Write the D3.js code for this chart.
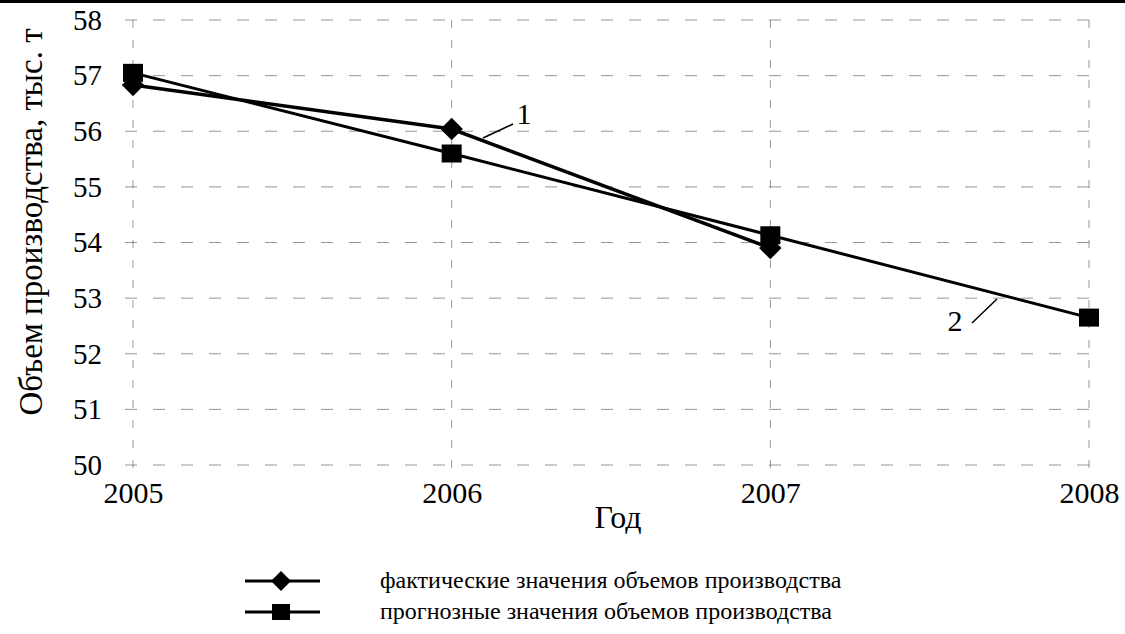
<!DOCTYPE html>
<html><head><meta charset="utf-8">
<script src="https://cdn.jsdelivr.net/npm/d3@7"></script>
<style>body{margin:0;background:#fff}svg{display:block}</style>
</head><body><svg id="c" width="1125" height="634"></svg>
<script>
const years = [2005, 2006, 2007, 2008];
const yTicks = [50, 51, 52, 53, 54, 55, 56, 57, 58];
const actualYears = [2005, 2006, 2007];
const actualValues = [56.83, 56.04, 53.9];
const forecastYears = [2005, 2006, 2007, 2008];
const forecastValues = [57.05, 55.6, 54.13, 52.65];
const legendLabels = ["фактические значения объемов производства", "прогнозные значения объемов производства"];
const xTitle = "Год";
const yTitle = "Объем производства, тыс. т";
const FONT = "'Liberation Serif', 'Times New Roman', Times, 'DejaVu Serif', serif";

const svg = d3.select("#c");
const x = d3.scaleLinear().domain([2005, 2008]).range([133, 1089]);
const y = d3.scaleLinear().domain([50, 58]).range([465, 20]);

svg.append("rect").attr("x",0).attr("y",0).attr("width",1125).attr("height",3).attr("fill","#000");

// gridlines
const g = svg.append("g");
g.selectAll(".hg").data(yTicks).join("line")
  .attr("x1", x(2005)-8).attr("x2", x(2008)).attr("y1", d=>y(d)).attr("y2", d=>y(d))
  .attr("stroke","#444").attr("stroke-width",1).attr("stroke-dasharray","12,16").attr("opacity",0.55);
g.selectAll(".vg").data(years).join("line")
  .attr("x1", d=>x(d)).attr("x2", d=>x(d)).attr("y1", y(58)).attr("y2", y(50)+6)
  .attr("stroke","#444").attr("stroke-width",1).attr("stroke-dasharray","8,12").attr("opacity",0.55);

const yAxis = svg.append("g").attr("transform",`translate(${x(2005)},0)`)
  .call(d3.axisLeft(y).tickValues(yTicks).tickFormat(d3.format("d")).tickSize(0).tickPadding(31));
yAxis.select(".domain").remove();
yAxis.selectAll("text").style("font-size","29px");

const xAxis = svg.append("g").attr("transform",`translate(0,${y(50)})`)
  .call(d3.axisBottom(x).tickValues(years).tickFormat(d3.format("d")).tickSize(0).tickPadding(17));
xAxis.select(".domain").remove();
xAxis.selectAll("text").style("font-size","30px");

svg.append("text").attr("x", 618).attr("y", 528).attr("text-anchor","middle")
  .style("font-size","32px").text(xTitle);
svg.append("text").attr("transform","translate(42,222) rotate(-90)").attr("text-anchor","middle")
  .style("font-size","33px").text(yTitle);

const line = d3.line().x(d=>x(d[0])).y(d=>y(d[1]));
const actual = actualYears.map((d,i)=>[d, actualValues[i]]);
const forecast = forecastYears.map((d,i)=>[d, forecastValues[i]]);

svg.append("path").datum(forecast).attr("d", line).attr("fill","none").attr("stroke","#000").attr("stroke-width",3);
svg.append("path").datum(actual).attr("d", line).attr("fill","none").attr("stroke","#000").attr("stroke-width",3.5);

svg.selectAll(".sq").data(forecast).join("rect")
  .attr("x", d=>x(d[0])-10).attr("y", d=>y(d[1])-9).attr("width",20).attr("height",18).attr("fill","#000");
svg.selectAll(".dm").data(actual).join("path")
  .attr("d", d3.symbol().type(d3.symbolSquare).size(250))
  .attr("transform", d=>`translate(${x(d[0])},${y(d[1])}) rotate(45)`)
  .attr("fill","#000");

// annotations
svg.append("line").attr("x1",483).attr("y1",138).attr("x2",513).attr("y2",124).attr("stroke","#000").attr("stroke-width",1.5);
svg.append("text").attr("x",524).attr("y",124).attr("text-anchor","middle").style("font-size","30px").text("1");
svg.append("line").attr("x1",972).attr("y1",323).attr("x2",997).attr("y2",299).attr("stroke","#000").attr("stroke-width",1.5);
svg.append("text").attr("x",955).attr("y",331).attr("text-anchor","middle").style("font-size","30px").text("2");

// legend
const lg = svg.append("g");
const rows = [{y:581, type:"diamond"},{y:612, type:"square"}];
rows.forEach((r,i)=>{
  lg.append("line").attr("x1",245).attr("x2",320).attr("y1",r.y).attr("y2",r.y).attr("stroke","#000").attr("stroke-width",3);
  if(r.type==="diamond"){
    lg.append("path").attr("d", d3.symbol().type(d3.symbolSquare).size(200)).attr("transform",`translate(281,${r.y}) rotate(45)`).attr("fill","#000");
  } else {
    lg.append("rect").attr("x",272).attr("y",r.y-8).attr("width",18).attr("height",16).attr("fill","#000");
  }
  lg.append("text").attr("x",380).attr("y",r.y+7).style("font-size","24px").text(legendLabels[i]);
});

svg.selectAll("text").attr("font-family", null).style("font-family", FONT).style("fill","#000");
</script></body></html>
